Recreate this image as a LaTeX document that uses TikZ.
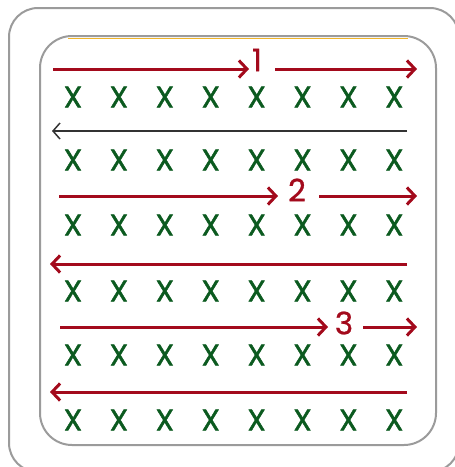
\documentclass[tikz,border=0pt]{standalone}
\usepackage{fontspec}
\setmainfont{Poppins}
\newfontfamily\boldishfont{Poppins}[FakeBold=1.6]
\newfontfamily\numfont{Poppins}[FakeBold=0.8]
\usetikzlibrary{arrows.meta}
\definecolor{rowred}{HTML}{A30A1C}
\definecolor{xgreen}{HTML}{0B5A1F}
\definecolor{framegray}{HTML}{9B9B9B}
\definecolor{topgold}{HTML}{F0B429}
\definecolor{darkline}{HTML}{333333}
\begin{document}
\begin{tikzpicture}[x=1pt,y=-1pt,
  frame/.style={draw=framegray, line width=2pt},
  redarrow/.style={draw=rowred, line width=3pt, -{Straight Barb[length=8pt,width=17pt]}},
  blackarrow/.style={draw=darkline, line width=1.5pt, -{Straight Barb[length=7pt,width=16pt]}},
  xmark/.style={text=xgreen, font=\boldishfont\fontsize{29.5}{29.5}\selectfont, inner sep=0pt},
  numlabel/.style={text=rowred, font=\numfont\fontsize{31}{31}\selectfont, inner sep=0pt}
]
\useasboundingbox (0,0) rectangle (455,467);
% outer frame
\draw[frame, rounded corners=29pt] (9,8) rectangle (459,472);
% gold top accent and inner frame
\draw[draw=topgold, line width=1.3pt] (68,38.8) -- (408,38.8);
\draw[frame, rounded corners=32pt] (40,36) rectangle (436,445);

% rows of X
\foreach \r/\yy in {1/97,2/160,3/225,4/291,5/355,6/420}{
  \foreach \c in {0,...,7}{
    \node[xmark] (x\r\c) at ({73+45.9*\c},\yy) {X};
  }
}

% row 1
\coordinate (s1) at (53,69);
\coordinate (t1) at (249,69);
\node[numlabel] (n1) at (257,60) {1};
\coordinate (s1b) at (275,69);
\coordinate (t1b) at (417,69);
\draw[redarrow] (s1) -- (t1);
\draw[redarrow] (s1b) -- (t1b);

% row 2 (black, leftward)
\coordinate (s2) at (407,131);
\coordinate (t2) at (52,131);
\draw[blackarrow] (s2) -- (t2);

% row 3
\coordinate (s3) at (59,196);
\coordinate (t3) at (278,196);
\node[numlabel] (n2) at (297,190) {2};
\coordinate (s3b) at (319,196);
\coordinate (t3b) at (417,196);
\draw[redarrow] (s3) -- (t3);
\draw[redarrow] (s3b) -- (t3b);

% row 4 (leftward)
\coordinate (s4) at (407,264);
\coordinate (t4) at (50,264);
\draw[redarrow] (s4) -- (t4);

% row 5
\coordinate (s5) at (60,327);
\coordinate (t5) at (328,327);
\node[numlabel] (n3) at (344,323) {3};
\coordinate (s5b) at (363,327);
\coordinate (t5b) at (417,327);
\draw[redarrow] (s5) -- (t5);
\draw[redarrow] (s5b) -- (t5b);

% row 6 (leftward)
\coordinate (s6) at (407,392);
\coordinate (t6) at (50,392);
\draw[redarrow] (s6) -- (t6);
\end{tikzpicture}
\end{document}
